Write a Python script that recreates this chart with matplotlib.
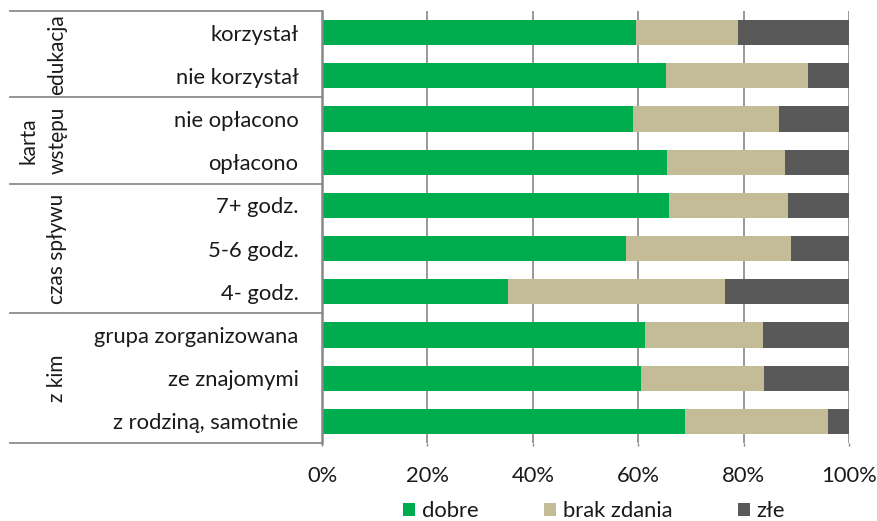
import matplotlib
matplotlib.use("Agg")
import matplotlib.pyplot as plt
from matplotlib.transforms import blended_transform_factory
import numpy as np

plt.rcParams['font.family'] = ['Lato', 'DejaVu Sans']

categories = ["korzystał", "nie korzystał", "nie opłacono", "opłacono",
              "7+ godz.", "5-6 godz.", "4- godz.",
              "grupa zorganizowana", "ze znajomymi", "z rodziną, samotnie"]
dobre = [59.6, 65.3, 59.0, 65.5, 65.8, 57.7, 35.3, 61.3, 60.6, 68.9]
brak_zdania = [19.3, 26.9, 27.7, 22.4, 22.6, 31.2, 41.2, 22.4, 23.2, 27.1]
zle = [21.1, 7.8, 13.3, 12.1, 11.6, 11.1, 23.5, 16.3, 16.2, 4.0]
series_names = ["dobre", "brak zdania", "złe"]
colors = ["#00AD4E", "#C4BC97", "#595959"]

groups = [("edukacja", 0, 1), ("karta\nwstępu", 2, 3), ("czas spływu", 4, 6), ("z kim", 7, 9)]
xticks = [0, 20, 40, 60, 80, 100]
xticklabels = ["0%", "20%", "40%", "60%", "80%", "100%"]

FS = 15.8
GFS = 15.0
W, H = 877, 521
fig = plt.figure(figsize=(W / 100, H / 100), dpi=100)
ax = fig.add_axes([322 / W, 78 / H, 527 / W, 432 / H])

y = np.arange(len(categories))
left = np.zeros(len(categories))
for vals, name, c in zip([dobre, brak_zdania, zle], series_names, colors):
    ax.barh(y, vals, left=left, height=0.58, color=c, label=name, zorder=2)
    left += np.array(vals)

ax.set_ylim(len(categories) - 0.5, -0.5)
ax.set_xlim(0, 100)
ax.set_xticks(xticks)
ax.set_xticklabels(xticklabels, fontsize=FS, color="#1a1a1a")
ax.set_yticks(y)
ax.set_yticklabels(categories, fontsize=FS, color="#1a1a1a")
ax.tick_params(axis='x', length=2.5, color="#888888", pad=14, width=1)
ax.tick_params(axis='y', length=0, pad=17)
ax.grid(axis='x', color="#888888", linewidth=1.2, zorder=0)
ax.set_axisbelow(True)
for s in ["top", "right", "bottom"]:
    ax.spines[s].set_visible(False)
ax.spines["left"].set_color("#888888")
ax.spines["left"].set_linewidth(1.8)

# left table
tr = blended_transform_factory(fig.transFigure, ax.transData)
bounds = [-0.5] + [g[2] + 0.5 for g in groups]
for b in bounds:
    ax.plot([10 / W, 322 / W], [b, b], color="#8c8c8c", lw=1.3, transform=tr, clip_on=False)

for label, a, b in groups:
    yc = (a + b) / 2
    if "\n" in label:
        l1, l2 = label.split("\n")
        ax.text(29 / W, yc, l1, rotation=90, ha='center', va='center', fontsize=GFS,
                color="#1a1a1a", transform=tr)
        ax.text(58 / W, yc, l2, rotation=90, ha='center', va='center', fontsize=GFS,
                color="#1a1a1a", transform=tr)
    else:
        ax.text(57 / W, yc, label, rotation=90, ha='center', va='center', fontsize=GFS,
                color="#1a1a1a", transform=tr)

fig.legend(loc='center', bbox_to_anchor=(594 / W, 1 - 511 / H), ncol=3, frameon=False,
           fontsize=FS, handlelength=0.55, handleheight=0.55, handletextpad=0.3,
           columnspacing=3.0, labelcolor="#1a1a1a")

fig.savefig("out.png", dpi=100)
